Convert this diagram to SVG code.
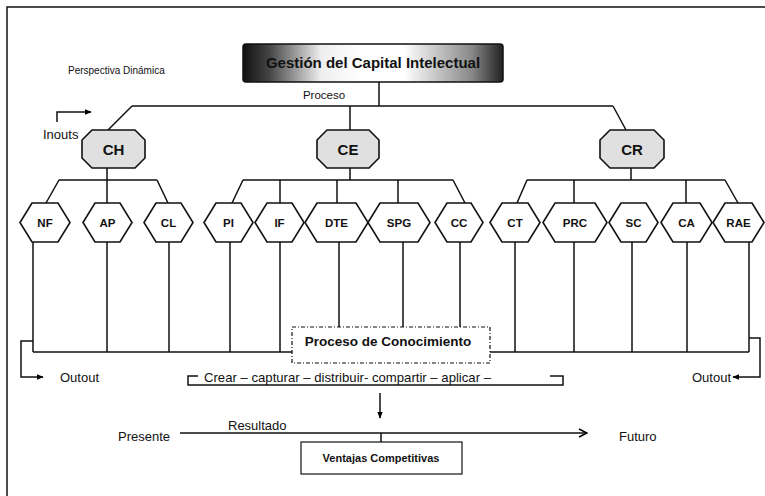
<svg xmlns="http://www.w3.org/2000/svg" width="765" height="496" viewBox="0 0 765 496">
<defs>
<linearGradient id="tg" x1="0" y1="0" x2="1" y2="0">
<stop offset="0" stop-color="#111"/>
<stop offset="0.1" stop-color="#444"/>
<stop offset="0.3" stop-color="#eee"/>
<stop offset="0.45" stop-color="#fff"/>
<stop offset="0.62" stop-color="#fff"/>
<stop offset="0.88" stop-color="#888"/>
<stop offset="1" stop-color="#222"/>
</linearGradient>
<marker id="ah" viewBox="0 0 10 10" refX="9" refY="5" markerWidth="7" markerHeight="7" orient="auto" markerUnits="userSpaceOnUse">
<path d="M0,1 L10,5 L0,9 Z" fill="#000"/>
</marker>
<marker id="oh" viewBox="0 0 10 10" refX="9" refY="5" markerWidth="10" markerHeight="10" orient="auto" markerUnits="userSpaceOnUse">
<path d="M1,1 L9,5 L1,9" fill="none" stroke="#000" stroke-width="1.5"/>
</marker>
</defs>
<style>
.ln{fill:none;stroke:#111;stroke-width:1.5}
.hex{fill:#fff;stroke:#111;stroke-width:1.6}
.oct{fill:#e0e0e0;stroke:#111;stroke-width:1.6}
.t{font-family:"Liberation Sans",Arial,sans-serif;fill:#111}
.b{font-family:"Liberation Sans",Arial,sans-serif;font-weight:bold;fill:#111}
.hl{font-size:11.5px;text-anchor:middle}
.ol{font-size:15px;text-anchor:middle}
</style>
<rect width="765" height="496" fill="#fff"/>
<g id="frame">
<path class="ln" d="M7,496 V7 H765"/>
</g>
<g id="connectors">
<path class="ln" d="M379,82 V106 M132,106 H613 M132,106 L108,130 M613,106 L626,130 M350,106 V130"/>
<path class="ln" d="M107,168 V180 M59,180 H157 M59,180 L46,203 M157,180 L168,203 M107,180 V203"/>
<path class="ln" d="M350,168 V180 M243,180 H453 M243,180 L232,203 M453,180 L465,203 M280,180 V203 M337,180 V203 M398,180 V203"/>
<path class="ln" d="M631,168 V180 M527,180 H725 M527,180 L517,203 M725,180 L738,203 M574,180 V203 M686,180 V203"/>
<path class="ln" d="M33,242 V352 M107,242 V352 M169,242 V352 M230,242 V352 M280,242 V352 M33,352 H292"/>
<path class="ln" d="M339,242 V327 M403,242 V327 M460,242 V327"/>
<path class="ln" d="M515,242 V352 M574,242 V352 M632,242 V352 M687,242 V352 M749,242 V352 M490,352 H749"/>
<path class="ln" d="M33,341 H21 V377 H43" marker-end="url(#ah)"/>
<path class="ln" d="M749,338 H760 V377 H733" marker-end="url(#ah)"/>
<path class="ln" d="M57,122 V112 H91" marker-end="url(#ah)"/>
<path class="ln" d="M198,376 H188 V385 H563 V376 H550"/>
<path class="ln" d="M380,393 V418" marker-end="url(#ah)"/>
<path class="ln" d="M180,433 H587" marker-end="url(#oh)"/>
<path class="ln" d="M381,433 V442"/>
</g>
<g id="title">
<rect x="243" y="44" width="260" height="38" rx="3" fill="url(#tg)" stroke="#111" stroke-width="1.5"/>
<text class="b" x="373" y="68" font-size="15" text-anchor="middle">Gestión del Capital Intelectual</text>
</g>
<text class="t" x="68" y="74" font-size="10">Perspectiva Dinámica</text>
<text class="t" x="324" y="99" font-size="11.5" text-anchor="middle">Proceso</text>
<text class="t" x="43" y="139" font-size="13">Inouts</text>
<g id="CH"><polygon class="oct" points="92,130 135,130 145,140 145,158 135,168 92,168 82,158 82,140"/><text class="b ol" x="113.5" y="154.5">CH</text></g>
<g id="CE"><polygon class="oct" points="327,130 369,130 379,140 379,158 369,168 327,168 317,158 317,140"/><text class="b ol" x="348" y="154.5">CE</text></g>
<g id="CR"><polygon class="oct" points="610,130 654,130 664,140 664,158 654,168 610,168 600,158 600,140"/><text class="b ol" x="632" y="154.5">CR</text></g>
<g id="NF"><polygon class="hex" points="20,222.5 32,203 58,203 70,222.5 58,242 32,242"/><text class="b hl" x="45" y="226.5">NF</text></g>
<g id="AP"><polygon class="hex" points="83,222.5 95,203 120,203 132,222.5 120,242 95,242"/><text class="b hl" x="107.5" y="226.5">AP</text></g>
<g id="CL"><polygon class="hex" points="144,222.5 156,203 181,203 193,222.5 181,242 156,242"/><text class="b hl" x="168.5" y="226.5">CL</text></g>
<g id="PI"><polygon class="hex" points="204,222.5 216,203 241,203 253,222.5 241,242 216,242"/><text class="b hl" x="228.5" y="226.5">PI</text></g>
<g id="IF"><polygon class="hex" points="255,222.5 267,203 292,203 304,222.5 292,242 267,242"/><text class="b hl" x="279.5" y="226.5">IF</text></g>
<g id="DTE"><polygon class="hex" points="305,222.5 317,203 356,203 368,222.5 356,242 317,242"/><text class="b hl" x="336.5" y="226.5">DTE</text></g>
<g id="SPG"><polygon class="hex" points="368,222.5 380,203 418,203 430,222.5 418,242 380,242"/><text class="b hl" x="399" y="226.5">SPG</text></g>
<g id="CC"><polygon class="hex" points="435,222.5 447,203 471,203 483,222.5 471,242 447,242"/><text class="b hl" x="459" y="226.5">CC</text></g>
<g id="CT"><polygon class="hex" points="490,222.5 502,203 528,203 540,222.5 528,242 502,242"/><text class="b hl" x="515" y="226.5">CT</text></g>
<g id="PRC"><polygon class="hex" points="543,222.5 555,203 595,203 607,222.5 595,242 555,242"/><text class="b hl" x="575" y="226.5">PRC</text></g>
<g id="SC"><polygon class="hex" points="609,222.5 621,203 646,203 658,222.5 646,242 621,242"/><text class="b hl" x="633.5" y="226.5">SC</text></g>
<g id="CA"><polygon class="hex" points="661,222.5 673,203 700,203 712,222.5 700,242 673,242"/><text class="b hl" x="686.5" y="226.5">CA</text></g>
<g id="RAE"><polygon class="hex" points="713,222.5 725,203 752,203 764,222.5 752,242 725,242"/><text class="b hl" x="738.5" y="226.5">RAE</text></g>
<g id="proceso">
<rect x="292" y="327" width="198" height="36" fill="#fff" stroke="#111" stroke-width="1.2" stroke-dasharray="4,2,1,2"/>
<text class="b" x="388" y="346" font-size="13.5" text-anchor="middle">Proceso de Conocimiento</text>
</g>
<text class="t" x="60" y="382" font-size="13">Outout</text>
<text class="t" x="731" y="382" font-size="13" text-anchor="end">Outout</text>
<text class="t" x="204" y="382" font-size="13" textLength="287" lengthAdjust="spacingAndGlyphs">Crear – capturar – distribuir- compartir – aplicar –</text>
<text class="t" x="118" y="441" font-size="13">Presente</text>
<text class="t" x="228" y="430" font-size="13">Resultado</text>
<text class="t" x="619" y="441" font-size="13">Futuro</text>
<g id="ventajas">
<rect x="301" y="442" width="161" height="32" fill="#fff" stroke="#111" stroke-width="1.2"/>
<text class="b" x="381" y="462" font-size="11" text-anchor="middle">Ventajas Competitivas</text>
</g>
</svg>
